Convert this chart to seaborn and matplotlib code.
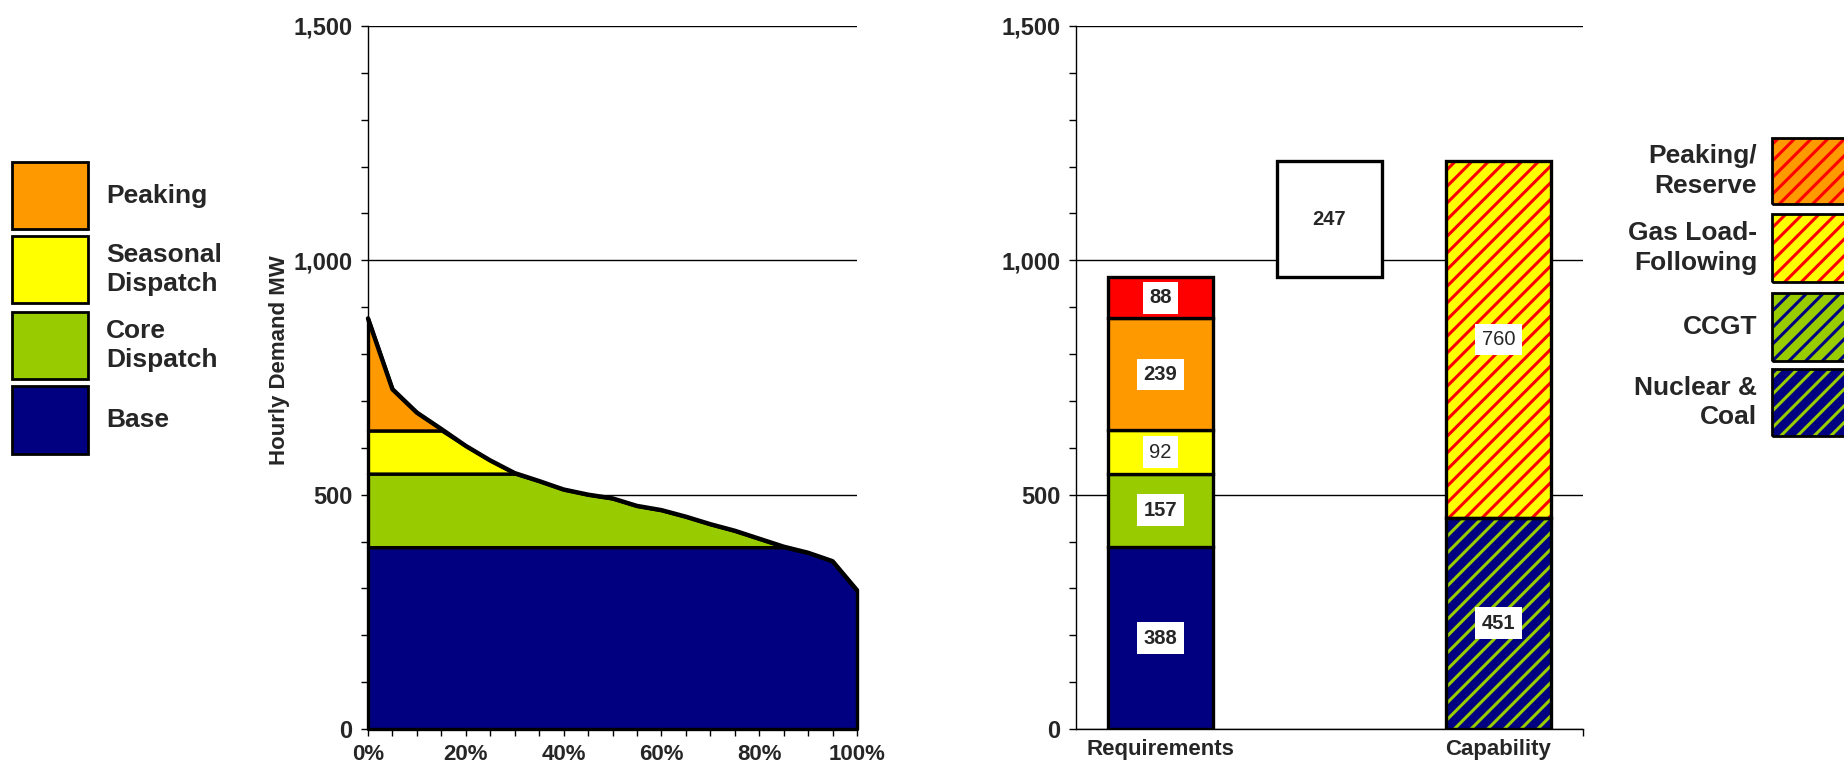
import numpy as np
import matplotlib
matplotlib.use("Agg")
import matplotlib.pyplot as plt
from matplotlib.patches import Rectangle
from matplotlib.ticker import MultipleLocator, FuncFormatter, FixedLocator
import seaborn as sns

# ---- data -------------------------------------------------------------
# load duration curve: share of hours (%) vs hourly demand (MW)
hours_pct = [0, 5, 10, 15, 20, 25, 30, 35, 40, 45, 50,
             55, 60, 65, 70, 75, 80, 85, 90, 95, 100]
demand_mw = [876, 725, 675, 640, 604, 573, 546, 529, 511, 500, 492,
             476, 467, 453, 437, 423, 406, 389, 376, 358, 296]

# requirement stack, bottom to top
req_names = ["Base", "Core Dispatch", "Seasonal Dispatch", "Peaking", "Reserve"]
req_values = [388, 157, 92, 239, 88]

# capability stack, bottom to top
cap_names = ["Nuclear & Coal", "Gas Load-Following"]
cap_values = [451, 760]

gap_value = 247

bar_categories = ["Requirements", "", "Capability"]
x_tick_labels = ["0%", "20%", "40%", "60%", "80%", "100%"]

left_legend = ["Peaking", "Seasonal\nDispatch", "Core\nDispatch", "Base"]
right_legend = ["Peaking/\nReserve", "Gas Load-\nFollowing", "CCGT", "Nuclear &\nCoal"]

# ---- style ------------------------------------------------------------
NAVY = "#000080"
GREEN = "#99CC00"
YELLOW = "#FFFF00"
ORANGE = "#FF9900"
RED = "#FF0000"
HATCH = "//"

sns.set_theme(style="white")
plt.rcParams["font.family"] = ["Liberation Sans", "DejaVu Sans"]
plt.rcParams["font.weight"] = "bold"
plt.rcParams["hatch.linewidth"] = 2.2

W, H = 1844, 770
fig = plt.figure(figsize=(W / 100, H / 100), dpi=100)

def fx(px):
    return px / W

def fy(px):
    return 1 - px / H

ax1 = fig.add_axes([fx(368), fy(729), (857 - 368) / W, (729 - 26) / H])
ax2 = fig.add_axes([fx(1076), fy(729), (1583 - 1076) / W, (729 - 26) / H])

TICK_FS = 17
XTICK_FS = 16

def style_axis(ax):
    for side in ("top", "right"):
        ax.spines[side].set_visible(False)
    for side in ("left", "bottom"):
        ax.spines[side].set_color("black")
        ax.spines[side].set_linewidth(1.0)
    ax.set_ylim(0, 1500)
    ax.yaxis.set_major_locator(MultipleLocator(500))
    ax.yaxis.set_minor_locator(MultipleLocator(100))
    ax.yaxis.set_major_formatter(FuncFormatter(lambda v, p: f"{int(v):,}"))
    ax.grid(axis="y", which="major", color="black", linewidth=1.0)
    ax.grid(axis="x", visible=False)
    ax.set_axisbelow(True)
    ax.tick_params(axis="y", which="both", direction="out", length=5, width=1,
                   color="black", left=True, pad=6, labelsize=TICK_FS)
    ax.tick_params(axis="x", which="both", direction="out", length=5, width=1,
                   color="black", bottom=True, pad=6, labelsize=XTICK_FS)
    ax.set_xlabel("")
    ax.set_ylabel("")

# ---- left: load duration curve split into dispatch bands ---------------
x = np.array(hours_pct) / 100.0
curve = np.array(demand_mw, dtype=float)
tops = np.cumsum(req_values)
band_edges = [(0, tops[0], NAVY), (tops[0], tops[1], GREEN),
              (tops[1], tops[2], YELLOW), (tops[2], np.inf, ORANGE)]
for lo, hi, col in band_edges:
    upper = np.minimum(curve, hi)
    ax1.fill_between(x, lo, upper, where=curve >= lo, interpolate=True,
                     facecolor=col, edgecolor="black", linewidth=2.4,
                     zorder=2, clip_on=False)
sns.lineplot(x=x, y=curve, ax=ax1, color="black", linewidth=3.2,
             zorder=4, clip_on=False)

style_axis(ax1)
ax1.set_xlim(0, 1)
ax1.xaxis.set_major_locator(FixedLocator(np.linspace(0, 1, 6)))
ax1.set_xticklabels(x_tick_labels)
ax1.xaxis.set_minor_locator(MultipleLocator(0.05))

fig.text(fx(280), fy(360), "Hourly Demand MW", rotation=90, ha="center",
         va="center", fontsize=16, fontweight="bold")

# ---- right: requirements vs capability ---------------------------------
BAR_W = 0.62
LBL_FS = 14.5
req_colors = [NAVY, GREEN, YELLOW, ORANGE, RED]
req_bold = [True, True, False, True, True]
label_box = dict(boxstyle="square,pad=0.32", fc="white", ec="none")

bottom = 0
for v, col, bold in zip(req_values, req_colors, req_bold):
    ax2.bar(0, v, bottom=bottom, width=BAR_W, color=col, edgecolor="black",
            linewidth=2.4, zorder=3)
    ax2.text(0, bottom + v / 2, f"{v}", ha="center", va="center", fontsize=LBL_FS,
             fontweight="bold" if bold else "normal", bbox=label_box, zorder=6)
    bottom += v

req_total = bottom
ax2.bar(1, gap_value, bottom=req_total, width=BAR_W, color="white",
        edgecolor="black", linewidth=2.4, zorder=3)
ax2.text(1, req_total + gap_value / 2, f"{gap_value}", ha="center", va="center",
         fontsize=LBL_FS, fontweight="bold", zorder=6)

cap_faces = [NAVY, YELLOW]
cap_hatch = [GREEN, RED]
cap_bold = [True, False]
bottom = 0
for v, face, hc, bold in zip(cap_values, cap_faces, cap_hatch, cap_bold):
    ax2.bar(2, v, bottom=bottom, width=BAR_W, color=face, linewidth=0, zorder=3)
    ax2.bar(2, v, bottom=bottom, width=BAR_W, fill=False, edgecolor=hc,
            hatch=HATCH, linewidth=0, zorder=4)
    ax2.bar(2, v, bottom=bottom, width=BAR_W, fill=False, edgecolor="black",
            linewidth=2.4, zorder=5)
    ax2.text(2, bottom + v / 2, f"{v}", ha="center", va="center", fontsize=LBL_FS,
             fontweight="bold" if bold else "normal", bbox=label_box, zorder=6)
    bottom += v

style_axis(ax2)
ax2.set_xlim(-0.5, 2.5)
ax2.set_xticks([0, 1, 2])
ax2.set_xticklabels(bar_categories)
ax2.tick_params(axis="x", which="major", length=0, pad=7)
ax2.xaxis.set_minor_locator(FixedLocator([2.5]))

# ---- legends ------------------------------------------------------------
LEG_FS = 19
left_faces = [ORANGE, YELLOW, GREEN, NAVY]
left_boxes = [(162, 229), (236, 303), (312, 379), (386, 454)]
for name, face, (t, b) in zip(left_legend, left_faces, left_boxes):
    fig.add_artist(Rectangle((fx(12), fy(b)), (88 - 12) / W, (b - t) / H,
                             transform=fig.transFigure, facecolor=face,
                             edgecolor="black", linewidth=2.0))
    fig.text(fx(106), fy((t + b) / 2), name, ha="left", va="center",
             fontsize=LEG_FS, fontweight="bold", linespacing=1.3)

right_faces = [ORANGE, YELLOW, GREEN, NAVY]
right_hatch = [RED, RED, NAVY, GREEN]
right_boxes = [(138, 204), (214, 282), (293, 361), (369, 436)]
for name, face, hc, (t, b) in zip(right_legend, right_faces, right_hatch, right_boxes):
    rect = (fx(1772), fy(b))
    w, h = (1900 - 1772) / W, (b - t) / H
    fig.add_artist(Rectangle(rect, w, h, transform=fig.transFigure,
                             facecolor=face, linewidth=0))
    fig.add_artist(Rectangle(rect, w, h, transform=fig.transFigure,
                             fill=False, edgecolor=hc, hatch=HATCH, linewidth=0))
    fig.add_artist(Rectangle(rect, w, h, transform=fig.transFigure,
                             fill=False, edgecolor="black", linewidth=2.0))
    fig.text(fx(1757), fy((t + b) / 2), name, ha="right", va="center",
             multialignment="right", fontsize=LEG_FS, fontweight="bold",
             linespacing=1.3)

fig.savefig("out.png", dpi=100, facecolor="white")
